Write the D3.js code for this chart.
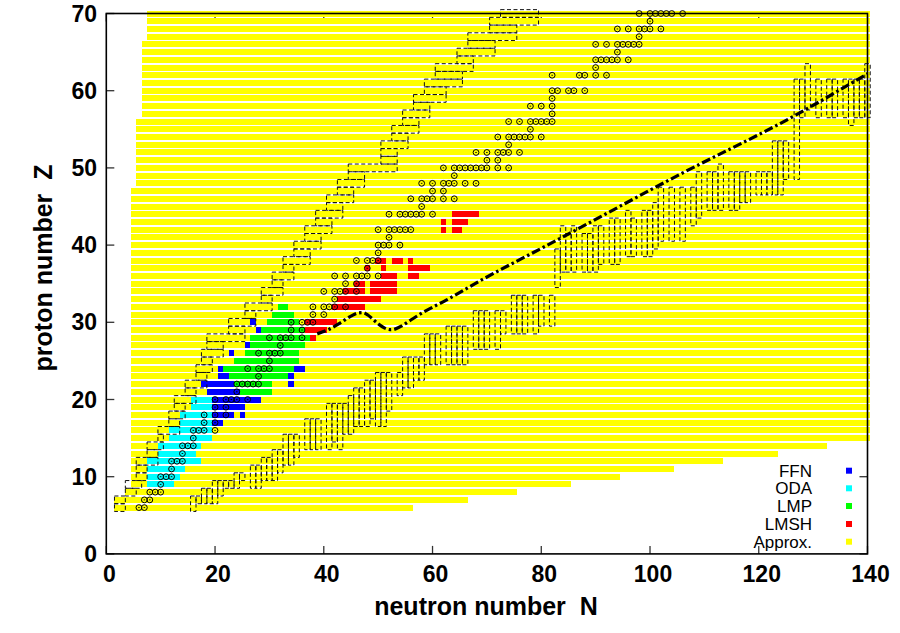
<!DOCTYPE html>
<html><head><meta charset="utf-8">
<script src="https://cdn.jsdelivr.net/npm/d3@7"></script>
<style>body{margin:0;background:#fff}svg{display:block}</style>
</head><body>
<svg id="c" width="900" height="633"></svg>
<script>
// ---------- data ----------
const approxZ = [6,7,8,9,10,11,12,13,14,15,16,17,18,19,20,21,22,23,24,25,26,27,28,29,30,31,32,33,34,35,36,37,38,39,40,41,42,43,44,45,46,47,48,49,50,51,52,53,54,55,56,57,58,59,60,61,62,63,64,65,66,67,68,69,70];
const approxNmin = [2,2,4,5,5,5,5,5,5,5,5,5,5,5,5,5,5,5,5,5,5,5,5,5,5,5,5,5,5,5,5,5,5,5,5,5,5,5,5,5,5,5,6,6,6,6,6,6,6,6,6,7,7,7,7,7,7,7,7,7,7,8,8,8,8];
const approxNmax = [56,66,75,85,94,104,113,123,132,140,140,140,140,140,140,140,140,140,140,140,140,140,140,140,140,140,140,140,140,140,140,140,140,140,140,140,140,140,140,140,140,140,140,140,140,140,140,140,140,140,140,140,140,140,140,140,140,140,140,140,140,140,140,140,140];

// [Z, N from, N to]
const odaCells = [[9,8,12],[10,8,13],[11,8,14],[12,8,17],[13,10,16],[14,10,17],[15,12,19],[16,12,19],[17,14,19],[18,14,19],[19,16,19],[20,16,19]];
const ffnCells = [[17,20,21],[18,20,23],[18,25,25],[19,20,25],[20,20,28],[21,19,24],[22,18,23],[22,34,34],[23,21,22],[23,34,34],[24,21,21],[24,35,36],[26,23,23],[27,26,26],[29,28,28],[30,27,27]];
const lmpCells = [[21,25,30],[22,24,30],[23,23,33],[24,22,34],[25,24,35],[26,26,35],[27,27,36],[28,27,37],[29,29,36],[30,30,35],[31,31,34],[32,32,33]];
const lmshCells = [[28,38,38],[29,37,40],[30,37,42],[32,42,47],[33,43,50],[34,44,47],[34,49,53],[35,46,47],[35,49,53],[36,51,53],[36,56,57],[37,48,48],[37,51,51],[37,56,59],[38,50,51],[38,53,54],[38,56,56],[42,62,62],[42,64,65],[43,62,62],[43,64,66],[44,64,68]];

// stable nuclei: [Z, [N...]]
const stable = [[6,[6,7]],[7,[7,8]],[8,[8,9,10]],[9,[10]],[10,[10,11,12]],[11,[12]],[12,[12,13,14]],[13,[14]],[14,[14,15,16]],[15,[16]],[16,[16,17,18,20]],[17,[18,20]],[18,[18,20,22]],[19,[20,22]],[20,[20,22,23,24,26]],[21,[24]],[22,[24,25,26,27,28]],[23,[28]],[24,[26,28,29,30]],[25,[30]],[26,[28,30,31,32]],[27,[32]],[28,[30,32,33,34,36]],[29,[34,36]],[30,[34,36,37,38]],[31,[38,40]],[32,[38,40,41,42,44]],[33,[42]],[34,[40,42,43,44,46]],[35,[44,46]],[36,[42,44,46,47,48,50]],[37,[48]],[38,[46,48,49,50]],[39,[50]],[40,[50,51,52,54]],[41,[52]],[42,[50,52,53,54,55,56]],[44,[52,54,55,56,57,58,60]],[45,[58]],[46,[56,58,59,60,62,64]],[47,[60,62]],[48,[58,60,62,63,64,66,68]],[49,[64]],[50,[62,64,65,66,67,68,69,70,72,74]],[51,[70,72]],[52,[68,70,72,73,74,76]],[53,[74]],[54,[72,74,75,76,77,78,80]],[55,[78]],[56,[74,76,78,79,80,81,82]],[57,[82]],[58,[78,80,82]],[59,[82]],[60,[82,83,85,86,88]],[62,[82,87,88,90,92]],[63,[90]],[64,[90,91,92,93,94,96]],[65,[94]],[66,[90,92,94,95,96,97,98]],[67,[98]],[68,[94,96,98,99,100,102]],[69,[100]],[70,[98,100,101,102,103,104,106]]];

// proton-side dashed boxes: [Z, N lo, N hi]
const protonBoxes = [[6,2,3],[7,2,3],[8,4,5],[9,4,6],[10,6,7],[11,6,7],[12,6,9],[13,8,9],[14,8,10],[15,10,10],[16,10,13],[17,12,13],[18,12,14],[19,13,14],[20,13,16],[21,15,16],[22,15,18],[23,17,18],[24,17,19],[25,18,19],[26,18,21],[27,19,21],[28,19,25],[29,23,25],[30,23,27],[31,26,27],[32,26,30],[33,29,30],[34,29,32],[35,31,32],[36,31,34],[37,33,34],[38,33,37],[39,35,37],[40,35,39],[41,37,39],[42,37,41],[43,39,41],[44,39,43],[45,41,43],[46,41,45],[47,43,45],[48,43,47],[49,45,47],[50,45,53],[51,51,53],[52,51,53],[53,51,55],[54,53,55],[55,53,57],[56,55,57],[57,55,59],[58,57,59],[59,57,62],[60,59,62],[61,59,65],[62,61,65],[63,61,67],[64,65,67],[65,65,71],[66,67,71],[67,67,75],[68,71,75],[69,71,79],[70,73,79]];

// neutron-side dashed boxes: [N, Z lo, Z hi]
const neutronBoxes = [[16,6,7],[17,7,7],[18,7,8],[19,7,8],[20,7,9],[21,8,9],[22,9,9],[23,9,9],[24,9,10],[25,10,10],[27,9,11],[28,9,11],[29,10,12],[30,10,12],[31,10,13],[32,11,13],[33,12,15],[34,12,15],[35,13,15],[37,14,17],[38,14,17],[39,14,17],[41,14,19],[42,15,19],[43,14,19],[44,16,19],[45,16,20],[46,17,21],[47,17,21],[48,17,22],[49,18,22],[50,17,23],[51,17,23],[52,19,23],[54,21,23],[55,22,25],[56,22,25],[57,23,25],[58,23,25],[59,25,28],[60,25,28],[61,25,28],[63,25,29],[64,25,29],[65,25,29],[66,25,29],[68,27,31],[69,27,31],[70,27,31],[72,27,31],[73,29,31],[75,29,33],[76,29,33],[77,29,33],[79,29,33],[80,30,33],[82,30,33],[83,35,39],[84,37,42],[85,37,41],[86,37,42],[88,37,41],[89,37,41],[90,37,42],[91,38,42],[93,38,43],[94,38,43],[96,39,44],[97,39,43],[99,39,44],[100,39,44],[101,40,45],[102,41,47],[104,41,47],[106,41,47],[108,43,47],[109,44,49],[111,45,49],[112,45,49],[113,45,50],[115,45,49],[116,45,49],[117,46,49],[118,46,49],[120,47,49],[121,47,49],[122,47,49],[123,47,53],[124,47,53],[125,49,53],[127,49,61],[128,57,61],[129,58,63],[131,57,61],[133,57,61],[134,57,61],[136,57,61],[137,56,61],[138,57,61],[139,57,61],[140,57,63]];

// dash-dot curve
const lineN = [38.8, 41, 43, 45, 46.3, 47.2, 48.1, 49.1, 50.2, 51.2, 52.2, 53.2, 54.5, 56, 58.3, 62.6, 68.8, 74.9, 79.8, 105.6, 126.7, 140];
const lineZ = [28.5, 29.1, 29.9, 30.8, 31.2, 31.25, 30.95, 30.35, 29.7, 29.25, 29.05, 29.15, 29.6, 30.3, 31.3, 32.9, 35.4, 37.7, 39.5, 49.2, 56.8, 62.2];

const legendNames = ["FFN","ODA","LMP","LMSH","Approx."];
const legendColors = ["#0000ff","#00ffff","#00ff00","#ff0000","#ffff00"];
const xTicks = [0,20,40,60,80,100,120,140];
const yTicks = [0,10,20,30,40,50,60,70];

// ---------- drawing ----------
const svg = d3.select("#c");
svg.append("rect").attr("width",900).attr("height",633).attr("fill","#fff");
const x = d3.scaleLinear().domain([0,140]).range([106.3, 867.5]);
const y = d3.scaleLinear().domain([0,70]).range([553.9, 13.5]);
const rowH = 6.0;

// ticks (under data)
const tk = svg.append("g").attr("stroke","#333").attr("stroke-width",1.3);
xTicks.forEach(t=>{
  tk.append("line").attr("x1",x(t)).attr("x2",x(t)).attr("y1",y(0)).attr("y2",y(0)-8);
  tk.append("line").attr("x1",x(t)).attr("x2",x(t)).attr("y1",y(70)).attr("y2",y(70)+8);
});
yTicks.forEach(t=>{
  tk.append("line").attr("x1",x(0)).attr("x2",x(0)+8).attr("y1",y(t)).attr("y2",y(t));
  tk.append("line").attr("x1",x(140)).attr("x2",x(140)-8).attr("y1",y(t)).attr("y2",y(t));
});

// approx bars and tabulated cells
const approx = approxZ.map((z,i)=>[z, approxNmin[i], approxNmax[i]]);
function cells(data, color){
  svg.append("g").selectAll("rect").data(data).join("rect")
    .attr("x", d=>x(d[1]-0.5)).attr("width", d=>x(d[2]+0.5)-x(d[1]-0.5))
    .attr("y", d=>y(d[0])-rowH/2).attr("height", rowH)
    .attr("fill", color).attr("shape-rendering","crispEdges");
}
cells(approx, legendColors[4]);
cells(odaCells, legendColors[1]);
cells(ffnCells, legendColors[0]);
cells(lmpCells, legendColors[2]);
cells(lmshCells, legendColors[3]);

// dashed drip boxes
const db = svg.append("g").attr("fill","none").attr("stroke","#111").attr("stroke-width",1).attr("stroke-dasharray","4,2.5");
db.selectAll("rect.p").data(protonBoxes).join("rect").attr("class","p")
  .attr("x", d=>x(d[1]-0.5)).attr("width", d=>x(d[2]+0.5)-x(d[1]-0.5))
  .attr("y", d=>y(d[0]+0.5)).attr("height", d=>y(d[0]-0.5)-y(d[0]+0.5));
db.selectAll("rect.n").data(neutronBoxes).join("rect").attr("class","n")
  .attr("x", d=>x(d[0]-0.5)).attr("width", d=>x(d[0]+0.5)-x(d[0]-0.5))
  .attr("y", d=>y(d[2]+0.5)).attr("height", d=>y(d[1]-0.5)-y(d[2]+0.5));

// stable nuclei circles
const pts = [];
stable.forEach(([z,ns])=>ns.forEach(n=>pts.push([n,z])));
const cg = svg.append("g");
cg.selectAll("circle").data(pts).join("circle")
  .attr("cx", d=>x(d[0])).attr("cy", d=>y(d[1])).attr("r", 2.9)
  .attr("fill","none").attr("stroke","#000").attr("stroke-width",1);
cg.selectAll("line").data(pts).join("line")
  .attr("x1", d=>x(d[0])-0.8).attr("x2", d=>x(d[0])+0.8)
  .attr("y1", d=>y(d[1])).attr("y2", d=>y(d[1]))
  .attr("stroke","#000").attr("stroke-width",0.9);

// dash-dot line
const lineData = lineN.map((n,i)=>[n, lineZ[i]]);
svg.append("path").datum(lineData)
  .attr("d", d3.line().x(d=>x(d[0])).y(d=>y(d[1])).curve(d3.curveMonotoneX))
  .attr("fill","none").attr("stroke","#000").attr("stroke-width",3.2)
  .attr("stroke-dasharray","9,3,2.5,3");

// frame
svg.append("rect").attr("x",x(0)).attr("y",y(70)).attr("width",x(140)-x(0)).attr("height",y(0)-y(70))
  .attr("fill","none").attr("stroke","#000").attr("stroke-width",1.6);

// tick labels
const font = "'Liberation Sans', Arial, Helvetica, sans-serif";
svg.append("g").selectAll("text").data(xTicks).join("text")
  .attr("x", d=>x(d)+3).attr("y", 581.5).attr("text-anchor","middle")
  .attr("font-family",font).attr("font-weight","bold").attr("font-size",23).text(d=>d);
svg.append("g").selectAll("text").data(yTicks).join("text")
  .attr("x", 97).attr("y", d=>y(d)+8).attr("text-anchor","end")
  .attr("font-family",font).attr("font-weight","bold").attr("font-size",23).text(d=>d);

// axis titles
svg.append("text").attr("x",486).attr("y",615).attr("text-anchor","middle")
  .attr("font-family",font).attr("font-weight","bold").attr("font-size",25)
  .attr("xml:space","preserve").style("white-space","pre").text("neutron number  N");
svg.append("text").attr("transform","translate(52,268) rotate(-90)").attr("text-anchor","middle")
  .attr("font-family",font).attr("font-weight","bold").attr("font-size",25)
  .attr("xml:space","preserve").style("white-space","pre").text("proton number  Z");

// legend
const lg = svg.append("g");
const legY = [470.7, 488.3, 506, 524, 541.7];
legendNames.forEach((name,i)=>{
  lg.append("text").attr("x",812).attr("y",legY[i]+6).attr("text-anchor","end")
    .attr("font-family",font).attr("font-size",17).attr("fill","#000").text(name);
  lg.append("rect").attr("x",846).attr("y",legY[i]-3).attr("width",6).attr("height",6)
    .attr("fill",legendColors[i]);
});
</script>
</body></html>
